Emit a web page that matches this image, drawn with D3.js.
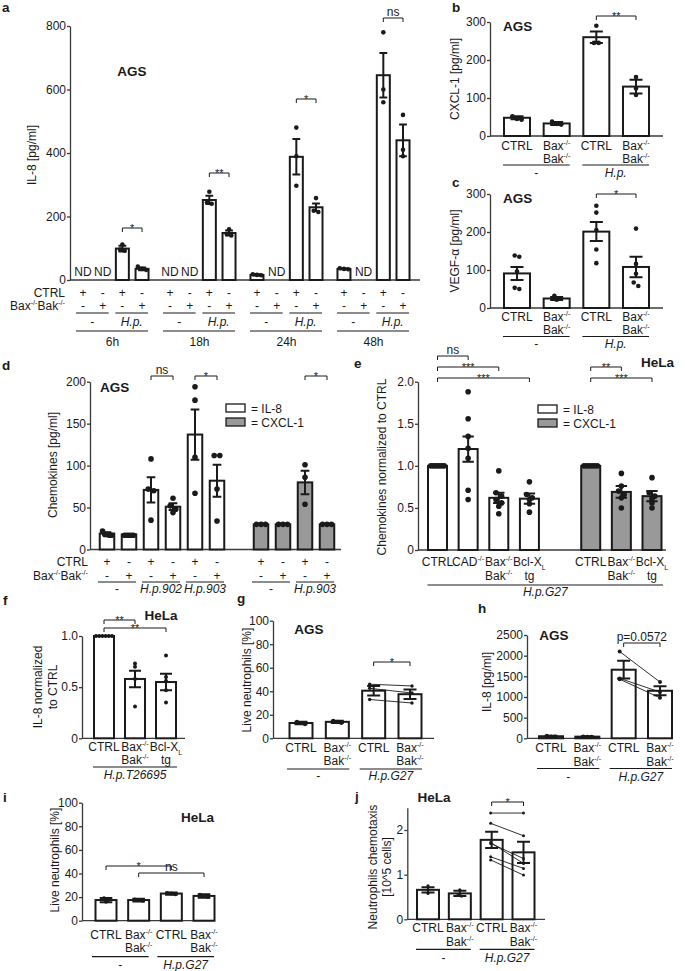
<!DOCTYPE html>
<html>
<head>
<meta charset="utf-8">
<script src="https://cdn.jsdelivr.net/npm/d3@7"></script>
<style>
  body { margin: 0; background: #fff; }
  svg { display: block; font-family: "Liberation Sans", Arial, sans-serif; }
</style>
</head>
<body>
<script>
// ---------- data ----------
// a: IL-8 in AGS over time; order CTRL -, Bax/Bak -, CTRL H.p., Bax/Bak H.p. (null = ND)
const aTimes = ["6h", "18h", "24h", "48h"];
const aCtrlSign = ["+", "-", "+", "-"];
const aBaxSign = ["-", "+", "-", "+"];
const aInfect = ["-", "H.p."];
const aMeans = [[null, null, 99, 35], [null, null, 252, 148], [16, null, 388, 229], [35, null, 645, 440]];
const aErrs = [[0, 0, 9, 4], [0, 0, 13, 8], [2, 0, 56, 12], [1, 0, 70, 50]];
const aDots = [
  [[], [], [112, 92, 96], [42, 32, 35]],
  [[], [], [278, 245, 240], [160, 140, 145]],
  [[18, 16, 15], [], [480, 390, 297], [258, 218, 214]],
  [[37, 35, 34], [], [780, 600, 560], [520, 410, 390]],
];
const aSig = ["*", "**", "*", "ns"];

// b: CXCL-1, c: VEGF-alpha (AGS)
const bcCats = [["CTRL"], ["Bax^{-/-}", "Bak^{-/-}"], ["CTRL"], ["Bax^{-/-}", "Bak^{-/-}"]];
const bcInfect = ["-", "H.p."];
const bMeans = [48, 33, 260, 130];
const bErrs = [4, 4, 15, 18];
const bDots = [[52, 45, 43], [38, 30, 32], [290, 245, 245], [155, 125, 108]];
const cMeans = [91, 25, 201, 108];
const cErrs = [17, 4, 25, 27];
const cDots = [[135, 138, 96, 50, 53], [32, 25, 22], [269, 251, 205, 154, 118], [209, 116, 90, 67, 58]];

// d: chemokines AGS, two strains
const dIl8Ctrl = ["+", "-", "+", "-", "+", "-"];
const dIl8Bax = ["-", "+", "-", "+", "-", "+"];
const dIl8Infect = ["-", "H.p.902", "H.p.903"];
const dIl8Means = [19, 18, 71, 51, 137, 82];
const dIl8Errs = [1.5, 0.5, 15, 4, 30, 19];
const dIl8Dots = [[22, 18, 17, 18, 17], [17, 17, 17, 17, 17], [108, 72, 70, 35], [61, 52, 48, 44], [194, 178, 110, 67], [112, 112, 72, 34]];
const dCxCtrl = ["+", "-", "+", "-"];
const dCxBax = ["-", "+", "-", "+"];
const dCxInfect = ["-", "H.p.903"];
const dCxMeans = [30, 30, 80, 30];
const dCxErrs = [0, 0, 14, 0];
const dCxDots = [[30, 30, 30], [30, 30, 30], [101, 86, 54], [30, 30, 30]];

// e: HeLa normalized chemokines
const eIl8Cats = [["CTRL"], ["CAD^{-/-}"], ["Bax^{-/-}", "Bak^{-/-}"], ["Bcl-X_{L}", "tg"]];
const eIl8Means = [1.0, 1.2, 0.62, 0.61];
const eIl8Errs = [0, 0.15, 0.06, 0.06];
const eIl8Dots = [[1, 1, 1, 1, 1, 1, 1], [1.88, 1.56, 1.35, 1.21, 1.09, 0.71, 0.6], [0.94, 0.68, 0.64, 0.6, 0.56, 0.52, 0.43], [0.81, 0.66, 0.62, 0.6, 0.55, 0.45]];
const eCxCats = [["CTRL"], ["Bax^{-/-}", "Bak^{-/-}"], ["Bcl-X_{L}", "tg"]];
const eCxMeans = [1.0, 0.69, 0.64];
const eCxErrs = [0, 0.07, 0.06];
const eCxDots = [[1, 1, 1, 1, 1, 1], [0.91, 0.76, 0.7, 0.66, 0.62, 0.5], [0.86, 0.68, 0.64, 0.61, 0.56, 0.5]];

// f: HeLa IL-8 normalized
const fCats = [["CTRL"], ["Bax^{-/-}", "Bak^{-/-}"], ["Bcl-X_{L}", "tg"]];
const fMeans = [1.0, 0.58, 0.55];
const fErrs = [0, 0.08, 0.08];
const fDots = [[1, 1, 1, 1, 1, 1], [0.73, 0.7, 0.58, 0.31], [0.81, 0.6, 0.56, 0.47, 0.35]];

// g-j: shared categories
const ghijCats = [["CTRL"], ["Bax^{-/-}", "Bak^{-/-}"], ["CTRL"], ["Bax^{-/-}", "Bak^{-/-}"]];
const ghijInfect = ["-", "H.p.G27"];
const gMeans = [13, 14, 40.5, 37.5];
const gErrs = [1, 1, 4, 4];
const gDots = [[14, 12, 13], [15, 13, 14]];
const gPairCtrl = [46, 42.5, 33];
const gPairBax = [44.5, 38.5, 30];
const hMeans = [50, 40, 1660, 1150];
const hErrs = [10, 8, 215, 110];
const hDots = [[60, 45, 45], [45, 38, 36]];
const hPairCtrl = [2100, 1450, 1430];
const hPairBax = [1360, 1120, 980];
const iMeans = [17.5, 17.5, 23, 21];
const iErrs = [1.8, 1.2, 1, 1.5];
const iDots = [[19, 16, 17.5], [18, 17, 17.5], [23.5, 22.5, 23], [22, 20, 21]];
const jMeans = [0.66, 0.58, 1.78, 1.5];
const jErrs = [0.06, 0.06, 0.18, 0.24];
const jDots = [[0.75, 0.66, 0.58], [0.66, 0.55, 0.52]];
const jPairCtrl = [2.38, 2.15, 1.72, 1.7, 1.4, 1.33];
const jPairBax = [2.38, 1.87, 1.25, 1.36, 1.14, 0.99];

// ---------- helpers ----------
const INK = "#1a1a1a";
const AXIS = "#3a3a3a";
const GREY = "#999999";
const svg = d3.select("body").append("svg").attr("width", 685).attr("height", 971);

// text with ^{sup} and _{sub}
function rich(sel, str, size) {
  const parts = str.split(/(\^\{[^}]*\}|_\{[^}]*\})/g).filter((s) => s !== "");
  let shift = 0;
  parts.forEach((p) => {
    let kind = "n";
    let t = p;
    if (p.startsWith("^{")) { kind = "sup"; t = p.slice(2, -1); }
    else if (p.startsWith("_{")) { kind = "sub"; t = p.slice(2, -1); }
    const target = kind === "sup" ? -size * 0.38 : kind === "sub" ? size * 0.3 : 0;
    sel.append("tspan").attr("dy", target - shift).attr("font-size", kind === "n" ? size : size * 0.6).text(t);
    shift = target;
  });
}

function label(g, x, y, str, opts = {}) {
  const size = opts.size || 12;
  const t = g.append("text")
    .attr("x", x).attr("y", y)
    .attr("text-anchor", opts.anchor || "middle")
    .attr("font-size", size)
    .attr("fill", INK)
    .attr("font-weight", opts.bold ? "bold" : null)
    .attr("font-style", opts.italic ? "italic" : null);
  if (opts.rotate) t.attr("transform", `rotate(-90,${x},${y})`);
  rich(t, str, size);
  return t;
}

function hline(g, x1, x2, y, w = 1.2) {
  g.append("line").attr("x1", x1).attr("x2", x2).attr("y1", y).attr("y2", y).attr("stroke", INK).attr("stroke-width", w);
}

function yAxis(g, y, x0, ticks, fmt) {
  const ax = g.append("g")
    .attr("transform", `translate(${x0},0)`)
    .call(d3.axisLeft(y).tickValues(ticks).tickSize(3).tickSizeOuter(0).tickPadding(1).tickFormat(fmt || d3.format("d")));
  ax.attr("font-family", null).attr("font-size", null);
  ax.select(".domain").attr("stroke", AXIS).attr("stroke-width", 1.3);
  ax.selectAll(".tick line").attr("stroke", AXIS).attr("stroke-width", 1.3);
  ax.selectAll(".tick text").attr("font-size", 12).attr("fill", INK);
}

function xLine(g, x1, x2, y) {
  g.append("line").attr("x1", x1).attr("x2", x2).attr("y1", y).attr("y2", y).attr("stroke", AXIS).attr("stroke-width", 1.3);
}

const normFmt = (v) => (v === 0 ? "0" : d3.format(".1f")(v));

// horizontal spread for dots that overlap
function spread(vals, y, r, bw) {
  const off = vals.map(() => 0);
  const order = d3.range(vals.length).sort((a, b) => y(vals[a]) - y(vals[b]));
  let cluster = [];
  const flush = () => {
    const m = cluster.length;
    if (m > 1) {
      const step = Math.min(2 * r, (bw - 2 * r) / (m - 1));
      cluster.forEach((k, j) => { off[k] = (j - (m - 1) / 2) * step; });
    }
    cluster = [];
  };
  order.forEach((k) => {
    if (cluster.length && y(vals[k]) - y(vals[cluster[0]]) > r * 1.5) flush();
    cluster.push(k);
  });
  flush();
  return off;
}

function drawBars(g, o) {
  const base = o.y(0);
  o.means.forEach((m, i) => {
    if (m === null) return;
    g.append("rect")
      .attr("x", o.xs[i] - o.bw / 2).attr("y", o.y(m))
      .attr("width", o.bw).attr("height", base - o.y(m))
      .attr("fill", o.fill || "#fff").attr("stroke", INK).attr("stroke-width", 2);
  });
  o.means.forEach((m, i) => {
    const e = o.errs[i];
    if (m === null || !e) return;
    const x = o.xs[i];
    const cw = Math.min(o.bw * 0.6, 13) / 2;
    const yt = o.y(m + e);
    const yb = o.y(m - e);
    g.append("path")
      .attr("d", `M${x},${yt}V${yb}M${x - cw},${yt}H${x + cw}M${x - cw},${yb}H${x + cw}`)
      .attr("stroke", INK).attr("stroke-width", 2).attr("fill", "none");
  });
  (o.dots || []).forEach((vals, i) => {
    const off = spread(vals, o.y, o.r, o.bw);
    vals.forEach((v, k) => {
      g.append("circle").attr("cx", o.xs[i] + off[k]).attr("cy", o.y(v)).attr("r", o.r).attr("fill", INK);
    });
  });
}

function pairs(g, x1, x2, y, a, b, r) {
  a.forEach((v, k) => {
    g.append("line").attr("x1", x1).attr("x2", x2).attr("y1", y(v)).attr("y2", y(b[k]))
      .attr("stroke", INK).attr("stroke-width", 0.9);
  });
  [[x1, a], [x2, b]].forEach(([x, vals]) => {
    vals.forEach((v) => g.append("circle").attr("cx", x).attr("cy", y(v)).attr("r", r).attr("fill", INK));
  });
}

function bracket(g, x1, x2, y, text, drop = 4) {
  g.append("path").attr("d", `M${x1},${y + drop}V${y}H${x2}V${y + drop}`)
    .attr("fill", "none").attr("stroke", INK).attr("stroke-width", 1);
  const star = /^\*+$/.test(text);
  label(g, (x1 + x2) / 2, star ? y + 3.5 : y - 2, text, { size: star ? 11 : 12 });
}

function catTable(g, xs, cats, y1, y2) {
  cats.forEach((lines, i) => {
    label(g, xs[i], y1, lines[0]);
    if (lines[1]) label(g, xs[i], y2, lines[1]);
  });
}

function groupLine(g, x1, x2, y, text, ty) {
  hline(g, x1, x2, y);
  label(g, (x1 + x2) / 2, ty, text, { italic: text !== "-" });
}

function legend(g, x, y) {
  [["#fff", "= IL-8"], [GREY, "= CXCL-1"]].forEach(([fill, txt], i) => {
    g.append("rect").attr("x", x).attr("y", y + i * 14).attr("width", 19).attr("height", 8)
      .attr("fill", fill).attr("stroke", INK).attr("stroke-width", 1.3);
    label(g, x + 25, y + i * 14 + 8.5, txt, { anchor: "start" });
  });
}

function letter(x, y, t) {
  label(svg, x, y, t, { anchor: "start", bold: true, size: 13.5 });
}

// ---------- panel a ----------
{
  const g = svg.append("g");
  const A_STEP = 4.42;
  const y = d3.scaleLinear().domain([0, 800]).range([280, 26]);
  const slot = d3.scaleLinear().domain([0, 3 * A_STEP + 3]).range([83, 403]);
  yAxis(g, y, 70, [0, 200, 400, 600, 800]);
  xLine(g, 70, 420, y(0));
  label(g, 65, 297, "CTRL", { anchor: "end" });
  label(g, 65, 310, "Bax^{-/-}Bak^{-/-}", { anchor: "end" });
  aTimes.forEach((t, gi) => {
    const xs = aMeans[gi].map((_, ci) => slot(gi * A_STEP + ci));
    drawBars(g, { xs, y, means: aMeans[gi], errs: aErrs[gi], dots: aDots[gi], bw: 13, r: 2.3 });
    aMeans[gi].forEach((m, ci) => { if (m === null) label(g, xs[ci], 276, "ND"); });
    xs.forEach((x, ci) => {
      label(g, x, 297, aCtrlSign[ci]);
      label(g, x, 310, aBaxSign[ci]);
    });
    aInfect.forEach((inf, p) => groupLine(g, xs[p * 2] - 7, xs[p * 2 + 1] + 6, 313, inf, 326));
    hline(g, xs[0] - 7, xs[3] + 6, 331);
    label(g, (xs[0] + xs[3]) / 2, 346, t);
  });
  const bracketY = [228, 173, 99, 18];
  aSig.forEach((s, gi) => bracket(g, slot(gi * A_STEP + 2), slot(gi * A_STEP + 3), bracketY[gi], s));
  label(g, 36, 155, "IL-8 [pg/ml]", { rotate: true });
  label(g, 132, 76, "AGS", { bold: true, size: 13.5 });
  letter(2, 12, "a");
}

// ---------- panels b and c ----------
function panelBC(means, errs, dots, top, bottom, rowY, yLab, sig, sigY) {
  const g = svg.append("g");
  const y = d3.scaleLinear().domain([0, 300]).range([bottom, top]);
  const x = d3.scaleLinear().domain([0, 3]).range([517, 636]);
  const xs = means.map((_, i) => x(i));
  yAxis(g, y, 490, [0, 100, 200, 300]);
  xLine(g, 490, 663, y(0));
  drawBars(g, { xs, y, means, errs, dots, bw: 26, r: 2.3 });
  catTable(g, xs, bcCats, rowY, rowY + 13);
  bcInfect.forEach((inf, p) => groupLine(g, xs[p * 2] - 14, xs[p * 2 + 1] + 13, rowY + 15.5, inf, rowY + 27));
  bracket(g, xs[2], xs[3], sigY, sig);
  label(g, 459, (top + bottom) / 2, yLab, { rotate: true });
  label(g, 503, top + 9, "AGS", { anchor: "start", bold: true, size: 13.5 });
}
panelBC(bMeans, bErrs, bDots, 22, 136, 149.5, "CXCL-1 [pg/ml]", "**", 16);
letter(452, 12, "b");
panelBC(cMeans, cErrs, cDots, 194, 308, 321, "VEGF-\u03b1 [pg/ml]", "*", 194);
letter(452, 187, "c");

// ---------- panel d ----------
{
  const g = svg.append("g");
  const y = d3.scaleLinear().domain([0, 200]).range([549.5, 381.7]);
  const x = d3.scaleLinear().domain([0, 10]).range([107, 327]);
  const CX_OFFSET = 7;
  yAxis(g, y, 90, [0, 50, 100, 150, 200]);
  xLine(g, 90, 341, y(0));
  const il8X = dIl8Means.map((_, i) => x(i));
  const cxX = dCxMeans.map((_, i) => x(i + CX_OFFSET));
  drawBars(g, { xs: il8X, y, means: dIl8Means, errs: dIl8Errs, dots: dIl8Dots, bw: 14.5, r: 2.8 });
  drawBars(g, { xs: cxX, y, means: dCxMeans, errs: dCxErrs, dots: dCxDots, bw: 14.5, r: 2.8, fill: GREY });
  label(g, 88, 566, "CTRL", { anchor: "end" });
  label(g, 88, 580, "Bax^{-/-}Bak^{-/-}", { anchor: "end" });
  il8X.forEach((xx, i) => { label(g, xx, 566, dIl8Ctrl[i]); label(g, xx, 580, dIl8Bax[i]); });
  cxX.forEach((xx, i) => { label(g, xx, 566, dCxCtrl[i]); label(g, xx, 580, dCxBax[i]); });
  dIl8Infect.forEach((inf, p) => groupLine(g, il8X[p * 2] - 9, il8X[p * 2 + 1] + 7, 582, inf, 593));
  dCxInfect.forEach((inf, p) => groupLine(g, cxX[p * 2] - 9, cxX[p * 2 + 1] + 7, 582, inf, 593));
  bracket(g, il8X[2], il8X[3], 376, "ns");
  bracket(g, il8X[4], il8X[5], 376, "*");
  bracket(g, cxX[2], cxX[3], 376, "*");
  legend(g, 226, 404);
  label(g, 57, 465, "Chemokines [pg/ml]", { rotate: true });
  label(g, 100, 392, "AGS", { anchor: "start", bold: true, size: 13.5 });
  letter(2, 370, "d");
}

// ---------- panel e ----------
{
  const g = svg.append("g");
  const y = d3.scaleLinear().domain([0, 2]).range([550, 381.7]);
  const x = d3.scaleLinear().domain([0, 7]).range([437.5, 652]);
  const CX_OFFSET = 5;
  yAxis(g, y, 418, [0, 0.5, 1, 1.5, 2], normFmt);
  xLine(g, 418, 666, y(0));
  const il8X = eIl8Means.map((_, i) => x(i));
  const cxX = eCxMeans.map((_, i) => x(i + CX_OFFSET));
  drawBars(g, { xs: il8X, y, means: eIl8Means, errs: eIl8Errs, dots: eIl8Dots, bw: 19, r: 2.8 });
  drawBars(g, { xs: cxX, y, means: eCxMeans, errs: eCxErrs, dots: eCxDots, bw: 19, r: 2.8, fill: GREY });
  catTable(g, il8X, eIl8Cats, 566, 580);
  catTable(g, cxX, eCxCats, 566, 580);
  groupLine(g, il8X[0] - 10, cxX[2] + 11, 585, "H.p.G27", 596);
  bracket(g, il8X[0], il8X[1], 356, "ns");
  bracket(g, il8X[0], il8X[2], 367, "***");
  bracket(g, il8X[0], il8X[3], 378, "***");
  bracket(g, cxX[0], cxX[1], 367, "**");
  bracket(g, cxX[0], cxX[2], 378, "***");
  legend(g, 538, 405);
  label(g, 386, 467, "Chemokines normalized to CTRL", { rotate: true });
  label(g, 674, 367, "HeLa", { anchor: "end", bold: true, size: 13.5 });
  letter(354, 368, "e");
}

// ---------- panel f ----------
{
  const g = svg.append("g");
  const y = d3.scaleLinear().domain([0, 1]).range([738.3, 636]);
  const x = d3.scaleLinear().domain([0, 2]).range([104, 166]);
  const xs = fMeans.map((_, i) => x(i));
  yAxis(g, y, 82, [0, 0.5, 1], normFmt);
  xLine(g, 82, 185, y(0));
  drawBars(g, { xs, y, means: fMeans, errs: fErrs, dots: fDots, bw: 20, r: 2 });
  catTable(g, xs, fCats, 751, 764);
  groupLine(g, xs[0] - 11, xs[2] + 11, 767, "H.p.T26695", 779);
  bracket(g, xs[0], xs[1], 620, "**", 4);
  bracket(g, xs[0], xs[2], 628, "**", 4);
  label(g, 42, 687, "IL-8 normalized", { rotate: true });
  label(g, 57, 687, "to CTRL", { rotate: true });
  label(g, 161, 620, "HeLa", { bold: true, size: 13.5 });
  letter(3, 605, "f");
}

// ---------- panel g ----------
{
  const g = svg.append("g");
  const y = d3.scaleLinear().domain([0, 100]).range([738.3, 620.7]);
  const x = d3.scaleLinear().domain([0, 3]).range([301, 410]);
  const xs = gMeans.map((_, i) => x(i));
  yAxis(g, y, 273, [0, 20, 40, 60, 80, 100]);
  xLine(g, 273, 434, y(0));
  drawBars(g, { xs, y, means: gMeans, errs: gErrs, dots: gDots, bw: 23, r: 2 });
  pairs(g, xs[2] - 4, xs[3] + 2, y, gPairCtrl, gPairBax, 1.7);
  catTable(g, xs, ghijCats, 752, 765);
  ghijInfect.forEach((inf, p) => groupLine(g, xs[p * 2] - 14, xs[p * 2 + 1] + 12, 769, inf, 780));
  bracket(g, xs[2], xs[3], 662, "*");
  label(g, 251, 680, "Live neutrophils [%]", { rotate: true });
  label(g, 309, 634, "AGS", { bold: true, size: 13.5 });
  letter(237, 603, "g");
}

// ---------- panel h ----------
{
  const g = svg.append("g");
  const y = d3.scaleLinear().domain([0, 2500]).range([738.3, 635]);
  const x = d3.scaleLinear().domain([0, 3]).range([551, 660]);
  const xs = hMeans.map((_, i) => x(i));
  yAxis(g, y, 527, [0, 500, 1000, 1500, 2000, 2500]);
  xLine(g, 527, 673, y(0));
  drawBars(g, { xs, y, means: hMeans, errs: hErrs, dots: hDots, bw: 24, r: 2 });
  pairs(g, xs[2] - 4, xs[3], y, hPairCtrl, hPairBax, 2);
  catTable(g, xs, ghijCats, 752, 765.5);
  ghijInfect.forEach((inf, p) => groupLine(g, xs[p * 2] - 14, xs[p * 2 + 1] + 12, 768.5, inf, 780.5));
  bracket(g, xs[2], xs[3], 643, "p=0.0572");
  label(g, 491, 682, "IL-8 [pg/ml]", { rotate: true });
  label(g, 554, 640, "AGS", { bold: true, size: 13.5 });
  letter(478, 613, "h");
}

// ---------- panel i ----------
{
  const g = svg.append("g");
  const y = d3.scaleLinear().domain([0, 100]).range([920.7, 802.7]);
  const x = d3.scaleLinear().domain([0, 3]).range([106, 204]);
  const xs = iMeans.map((_, i) => x(i));
  yAxis(g, y, 82, [0, 20, 40, 60, 80, 100]);
  xLine(g, 82, 215, y(0));
  drawBars(g, { xs, y, means: iMeans, errs: iErrs, dots: iDots, bw: 21, r: 2 });
  catTable(g, xs, ghijCats, 939, 952);
  ghijInfect.forEach((inf, p) => groupLine(g, xs[p * 2] - 14, xs[p * 2 + 1] + 10, 956.7, inf, 968.5));
  bracket(g, xs[0], xs[2], 866, "*");
  bracket(g, xs[1], xs[3], 873, "ns");
  label(g, 59, 860, "Live neutrophils [%]", { rotate: true });
  label(g, 197.5, 822, "HeLa", { bold: true, size: 13.5 });
  letter(3, 802, "i");
}

// ---------- panel j ----------
{
  const g = svg.append("g");
  const y = d3.scaleLinear().domain([0, 2.5]).range([919.3, 807.7]);
  const x = d3.scaleLinear().domain([0, 3]).range([428, 523.5]);
  const xs = jMeans.map((_, i) => x(i));
  yAxis(g, y, 407.3, [0, 1, 2]);
  xLine(g, 407.3, 545, y(0));
  drawBars(g, { xs, y, means: jMeans, errs: jErrs, dots: jDots, bw: 22, r: 1.6 });
  pairs(g, xs[2] - 1, xs[3], y, jPairCtrl, jPairBax, 1.5);
  catTable(g, xs, ghijCats, 932, 946);
  ghijInfect.forEach((inf, p) => groupLine(g, xs[p * 2] - 12, xs[p * 2 + 1] + 11, 949.3, inf, 961.5));
  bracket(g, xs[2], xs[3], 802, "*");
  label(g, 377, 867, "Neutrophils chemotaxis", { rotate: true });
  label(g, 391, 867, "[10^5 cells]", { rotate: true });
  label(g, 434, 802, "HeLa", { bold: true, size: 13.5 });
  letter(355, 801, "j");
}
</script>
</body>
</html>
